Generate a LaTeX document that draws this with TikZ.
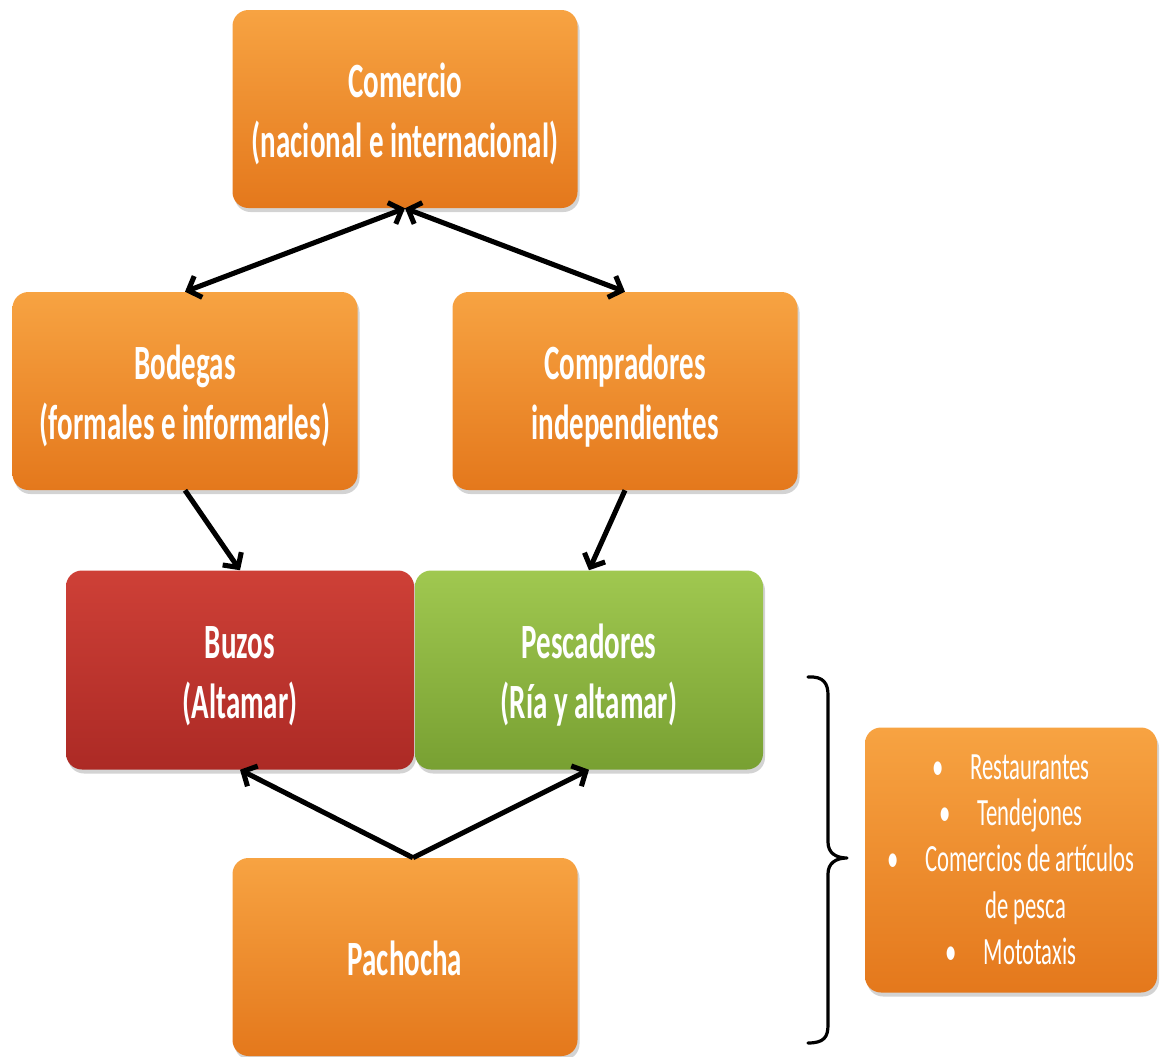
\documentclass[tikz,border=0pt]{standalone}
\usepackage{fontspec}
\setmainfont{Carlito}
\usepackage{graphicx}
\usetikzlibrary{arrows.meta,shadows}
\definecolor{orT}{RGB}{247,163,66}
\definecolor{orM}{RGB}{242,143,42}
\definecolor{orB}{RGB}{228,120,28}
\definecolor{rdT}{RGB}{206,64,55}
\definecolor{rdM}{RGB}{194,52,46}
\definecolor{rdB}{RGB}{172,42,37}
\definecolor{grT}{RGB}{160,200,80}
\definecolor{grM}{RGB}{142,184,62}
\definecolor{grB}{RGB}{120,160,50}
\newcommand{\stxt}[1]{\raisebox{0pt}[\dimexpr\height+10pt\relax][\depth]{\scalebox{1}[1.7]{\begin{tabular}{@{}c@{}}#1\end{tabular}}}}
\newcommand{\ltxt}[1]{\raisebox{0pt}[\dimexpr\height+4pt\relax][\depth]{\scalebox{1}[1.7]{\begin{tabular}{@{}c@{}}#1\end{tabular}}}}
\tikzset{
  box/.style={rectangle, rounded corners=12pt, inner sep=0pt,
    minimum width=258.75pt, minimum height=148.5pt,
    text=white, font=\fontsize{21.75}{26.5}\selectfont\bfseries,
    drop shadow={opacity=0.35, shadow xshift=1.5pt, shadow yshift=-3pt}},
  orangebox/.style={box, top color=orT, middle color=orM, bottom color=orB},
  redbox/.style={box, top color=rdT, middle color=rdM, bottom color=rdB,
    minimum width=261pt, minimum height=149.25pt},
  greenbox/.style={box, top color=grT, middle color=grM, bottom color=grB,
    minimum width=261pt, minimum height=149.25pt},
  listbox/.style={orangebox, minimum width=219pt, minimum height=198.75pt,
    font=\fontsize{17}{20.5}\selectfont},
  conn/.style={line width=3.8pt, -{Straight Barb[length=8pt,width=17pt]}},
  biconn/.style={line width=3.8pt, {Straight Barb[length=8pt,width=17pt]}-{Straight Barb[length=8pt,width=17pt]}},
  bracestyle/.style={line width=2.4pt, line cap=round, line join=round}
}
\begin{document}
\begin{tikzpicture}[x=0.75pt,y=-0.75pt]
\useasboundingbox (0,0) rectangle (1161,1057);
\node[orangebox] (com) at (405,109) {\stxt{Comercio\\(nacional e internacional)}};
\node[orangebox] (bod) at (185,391) {\stxt{Bodegas\\(formales e informarles)}};
\node[orangebox] (cmp) at (625,391) {\stxt{Compradores\\independientes}};
\node[redbox] (buz) at (240,670) {\stxt{Buzos\\(Altamar)}};
\node[greenbox] (pes) at (589,670) {\stxt{Pescadores\\(Ría y altamar)}};
\node[orangebox] (pac) at (405,957) {\stxt{Pachocha}};
\node[listbox] (lst) at (1011,860) {\ltxt{\textbullet\hspace{20pt}Restaurantes\\
\textbullet\hspace{20pt}Tendejones\\
\textbullet\hspace{20pt}Comercios de artículos\\
\hspace*{22pt}de pesca\\
\textbullet\hspace{20pt}Mototaxis}};
\coordinate (pactop) at ([xshift=6pt]pac.north);
\draw[biconn] (bod.north) -- (com.south);
\draw[biconn] (cmp.north) -- (com.south);
\draw[conn] (bod.south) -- (buz.north);
\draw[conn] (cmp.south) -- (pes.north);
\draw[conn] (pactop) -- (buz.south);
\draw[conn] (pactop) -- (pes.south);
\draw[bracestyle] (808,677) .. controls (824,676) and (828,684) .. (828,695) -- (828,842)
  .. controls (828,853) and (836,858) .. (847,858)
  .. controls (836,858) and (828,863) .. (828,874) -- (828,1025)
  .. controls (828,1037) and (824,1043) .. (808,1043);
\end{tikzpicture}
\end{document}
